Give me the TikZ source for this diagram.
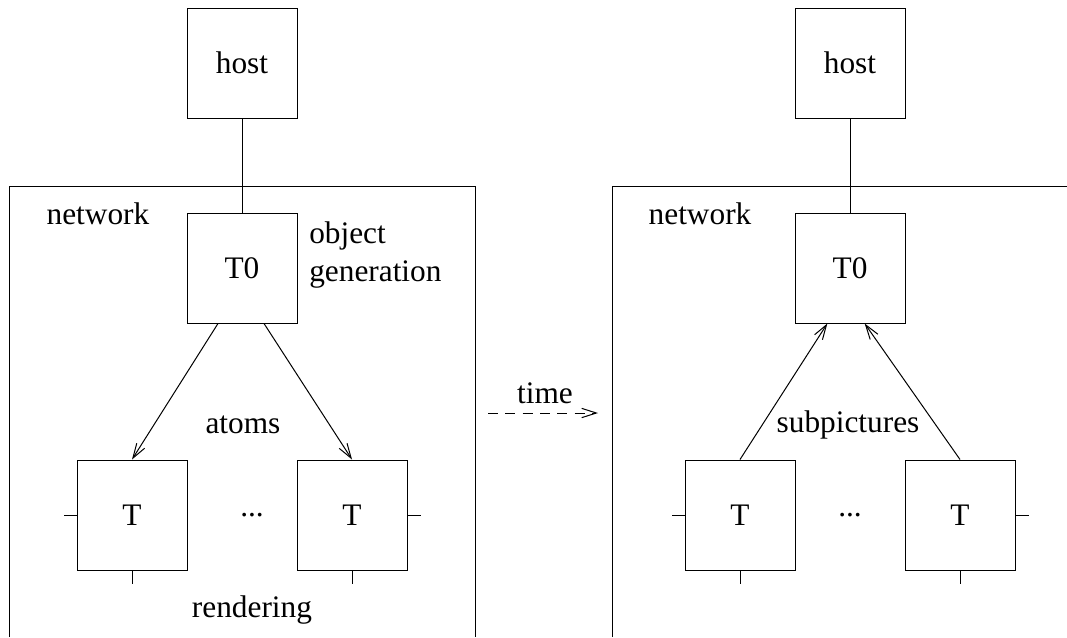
\documentclass[tikz,border=0pt]{standalone}
\usepackage{fontspec}
\setmainfont{Liberation Serif}
\usetikzlibrary{arrows.meta}
\begin{document}
\begin{tikzpicture}[x=0.75pt,y=-0.75pt,
  every node/.style={font=\fontsize{23.5}{28}\selectfont},
  line/.style={line width=0.75pt},
  box/.style={draw,line width=0.75pt,minimum width=82.5pt,minimum height=82.5pt,inner sep=0pt},
  arr/.style={line width=0.75pt,-{Straight Barb[length=11pt,width=7pt,line width=0.75pt]}},
  lbl/.style={inner sep=0pt}]
\useasboundingbox (0,0) rectangle (1067,637);
% ---------- left ----------
\node[box] (hostL) at (242,63) {host};
\node[box] (t0L) at (242,268) {T0};
\node[box] (tL1) at (132,515) {T};
\node[box] (tL2) at (352,515) {T};
\draw[line] (hostL.south) -- (t0L.north);
\coordinate (nL1) at (9,637);
\coordinate (nL2) at (9,186);
\coordinate (nL3) at (475,186);
\coordinate (nL4) at (475,637);
\draw[line] (nL1) -- (nL2) -- (nL3) -- (nL4);
\node[lbl] (netL) at (98,214) {network};
\node[lbl,align=left,anchor=west] (obj) at (309,255) {object\\generation};
\node[lbl] (atoms) at (243,425) {atoms};
\node[lbl] (dotsL) at (252,515) {...};
\node[lbl] (rend) at (252,610) {rendering};
\draw[arr] ([xshift=-18pt]t0L.south) -- (tL1.north);
\draw[arr] ([xshift=16.5pt]t0L.south) -- (tL2.north);
\draw[line] (tL1.west) -- ++(-13,0);
\draw[line] (tL1.south) -- ++(0,13);
\draw[line] (tL2.east) -- ++(13,0);
\draw[line] (tL2.south) -- ++(0,13);
% ---------- time ----------
\coordinate (tA) at (488,413);
\coordinate (tB) at (598,413);
\draw[arr,dash pattern=on 7.5pt off 5.5pt] (tA) -- (tB);
\node[lbl] (time) at (545,393) {time};
% ---------- right ----------
\node[box] (hostR) at (850,63) {host};
\node[box] (t0R) at (850,268) {T0};
\node[box] (tR1) at (740,515) {T};
\node[box] (tR2) at (960,515) {T};
\draw[line] (hostR.south) -- (t0R.north);
\coordinate (nR1) at (612,637);
\coordinate (nR2) at (612,186);
\coordinate (nR3) at (1067,186);
\draw[line] (nR1) -- (nR2) -- (nR3);
\node[lbl] (netR) at (700,214) {network};
\node[lbl] (sub) at (848,425) {subpictures};
\node[lbl] (dotsR) at (850,515) {...};
\draw[arr] (tR1.north) -- ([xshift=-17pt]t0R.south);
\draw[arr] (tR2.north) -- ([xshift=11pt]t0R.south);
\draw[line] (tR1.west) -- ++(-13,0);
\draw[line] (tR1.south) -- ++(0,13);
\draw[line] (tR2.east) -- ++(13,0);
\draw[line] (tR2.south) -- ++(0,13);
\end{tikzpicture}
\end{document}
